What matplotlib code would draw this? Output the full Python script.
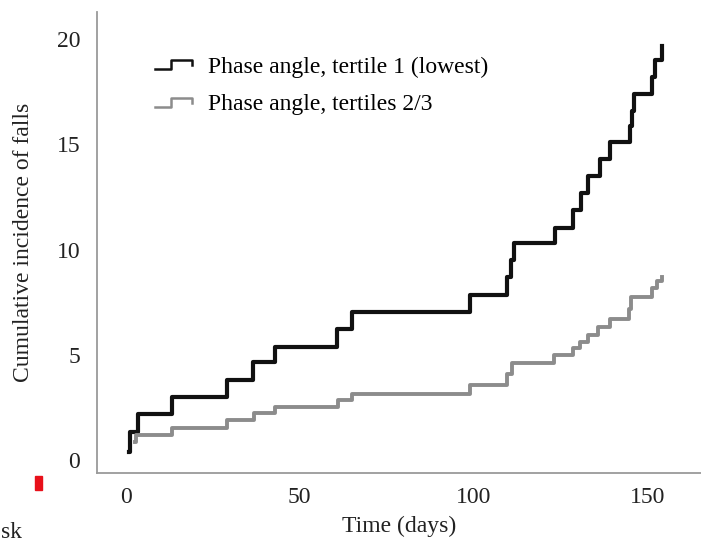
import matplotlib
matplotlib.use("Agg")
import matplotlib.pyplot as plt
from matplotlib.lines import Line2D
from matplotlib.legend_handler import HandlerBase
from matplotlib.patches import Rectangle

plt.rcParams['font.family'] = ['Liberation Serif', 'DejaVu Serif']

# Kaplan-Meier style cumulative incidence
low_days = [1.0, 1.1, 3.5, 13.2, 29.1, 36.5, 42.9, 60.7, 65.0, 99.0, 109.6, 110.8, 111.6,
            123.4, 128.6, 130.9, 132.9, 136.4, 139.2, 145.0, 145.5, 146.0, 151.3, 152.2, 154.2]
low_vals = [0.4, 1.33, 2.2, 3.0, 3.8, 4.67, 5.38, 6.25, 7.05, 7.86, 8.7, 9.5, 10.3,
            11.05, 11.9, 12.7, 13.5, 14.3, 15.1, 15.9, 16.6, 17.4, 18.2, 19.0, 19.7]

high_days = [2.5, 3.0, 13.2, 29.1, 36.8, 42.9, 61.0, 65.0, 99.0, 109.6, 111.0, 123.1,
             128.6, 130.6, 132.9, 135.8, 139.2, 144.7, 145.2, 151.3, 152.8, 154.2]
high_vals = [0.85, 1.2, 1.5, 1.9, 2.24, 2.52, 2.86, 3.14, 3.57, 4.1, 4.6, 5.0,
             5.33, 5.6, 5.95, 6.3, 6.7, 7.2, 7.76, 8.2, 8.5, 8.7]

labels = ['Phase angle, tertile 1 (lowest)', 'Phase angle, tertiles 2/3']
x_ticks = [0, 50, 100, 150]
y_ticks = [0, 5, 10, 15, 20]


class StepHandler(HandlerBase):
    # little step icon used in the legend
    def create_artists(self, legend, orig_handle, xdescent, ydescent, width, height, fontsize, trans):
        x0, y0 = -xdescent, -ydescent
        xs = [x0, x0 + 0.45 * width, x0 + 0.45 * width, x0 + width, x0 + width]
        ys = [y0 + 0.2 * height, y0 + 0.2 * height, y0 + 0.75 * height, y0 + 0.75 * height, y0 + 0.45 * height]
        ln = Line2D(xs, ys, color=orig_handle.get_color(), lw=1.8)
        ln.set_transform(trans)
        return [ln]


fig = plt.figure(figsize=(7.01, 5.44), dpi=100)
ax = fig.add_axes([97 / 701, 71 / 544, 1 - 97 / 701, 461 / 544])

l1, = ax.step(low_days, low_vals, where='post', color='#111111', lw=3.0)
l2, = ax.step(high_days, high_vals, where='post', color='#8c8c8c', lw=2.8)

ax.set_xlim(-8.3, 165.4)
ax.set_ylim(-0.62, 21.3)
ax.set_xticks(x_ticks)
ax.set_yticks(y_ticks)
ax.tick_params(length=0, labelsize=17, colors='#222222')
ax.tick_params(axis='x', pad=10)
ax.tick_params(axis='y', pad=12)

for s in ['top', 'right']:
    ax.spines[s].set_visible(False)
for s in ['left', 'bottom']:
    ax.spines[s].set_color('#9a9a9a')
    ax.spines[s].set_linewidth(1.3)

ax.set_xlabel('Time (days)', fontsize=17, color='#222222', labelpad=6)
ax.set_ylabel('Cumulative incidence of falls', fontsize=17, color='#222222', labelpad=16)

ax.legend([l1, l2], labels, handler_map={l1: StepHandler(), l2: StepHandler()},
          loc='upper left', bbox_to_anchor=(155 / 701, 1 - 56 / 544), bbox_transform=fig.transFigure,
          frameon=False, fontsize=17, handlelength=1.55, handletextpad=0.7,
          labelspacing=0.68, borderpad=0, borderaxespad=0)

# bits of the neighbouring figure that were caught in the crop
fig.patches.append(Rectangle((35 / 701, 54 / 544), 7 / 701, 14 / 544, transform=fig.transFigure,
                             color='#e8101a', figure=fig))
fig.text(22 / 701, 12 / 544, 'sk', fontsize=17, color='#222222', ha='right', va='center')

fig.savefig('out.png', dpi=100)
